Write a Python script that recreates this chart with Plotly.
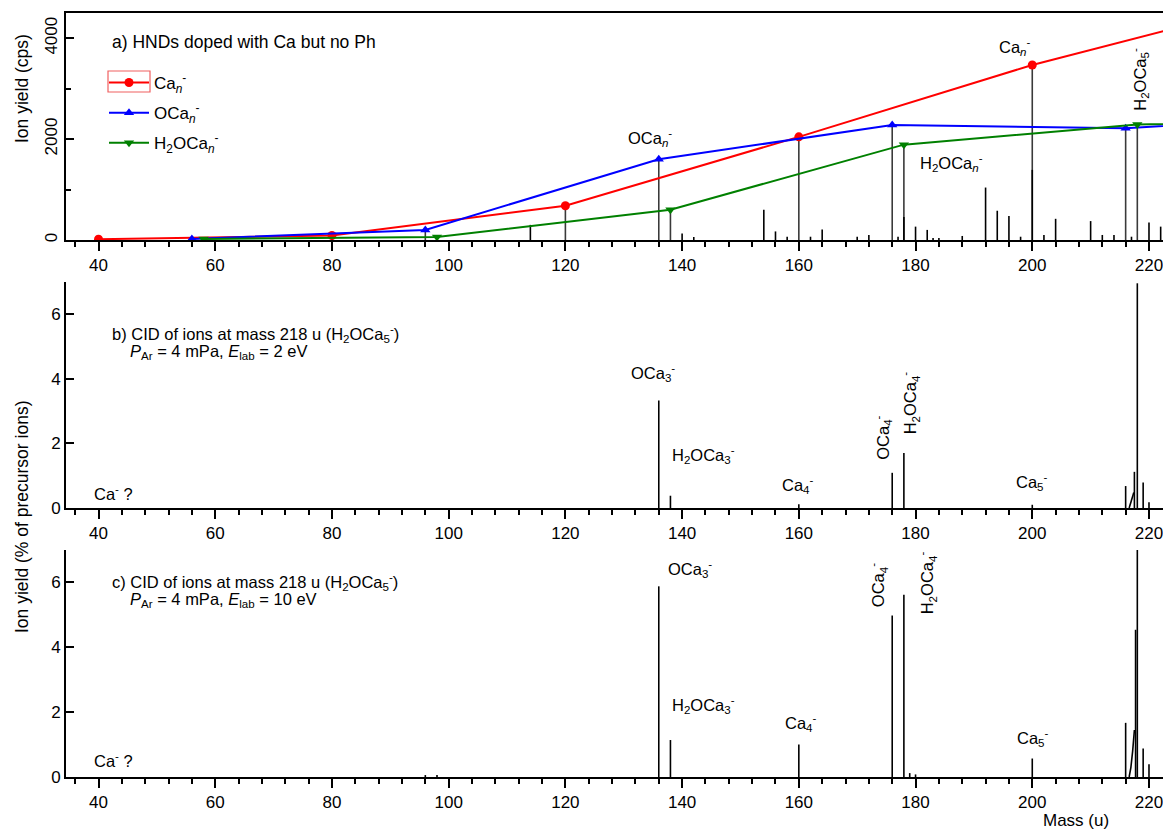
import plotly.graph_objects as go

# ---------------- data ----------------
# panel a: integrated series (mass in u, ion yield in cps)
ca_mass = [40, 80, 120, 160, 200, 240]
ca_val = [15, 90, 680, 2045, 3470, 4660]
oca_mass = [56, 96, 136, 176, 216, 256]
oca_val = [20, 200, 1600, 2280, 2215, 2500]
h2oca_mass = [58, 98, 138, 178, 218, 258]
h2oca_val = [20, 60, 600, 1890, 2290, 2380]

# panel a: other mass peaks (cps)
a_mass = [114, 140, 142, 154, 156, 158, 162, 164, 170, 172, 177, 178, 180, 182, 183,
          184, 188, 192, 194, 196, 198, 200, 202, 204, 210, 212, 214, 217, 220, 222]
a_val = [300, 130, 60, 600, 170, 65, 65, 210, 65, 100, 65, 455, 265, 200, 40,
         40, 80, 1040, 580, 475, 65, 1390, 100, 420, 375, 100, 100, 65, 345, 265]

# panel b: CID 2 eV (% of precursor ions)
b_mass = [136, 138, 160, 176, 178, 200, 216, 217.5, 218, 219, 220]
b_val = [3.33, 0.38, 0.12, 1.09, 1.70, 0.10, 0.68, 1.12, 6.96, 0.79, 0.18]
b_hump_mass = [216.6, 216.9, 217.2, 217.4]
b_hump_val = [0.0, 0.18, 0.38, 0.48]

# panel c: CID 10 eV (% of precursor ions)
c_mass = [96, 98, 136, 138, 160, 176, 178, 179, 180, 200, 216, 217.7, 218, 219, 220]
c_val = [0.06, 0.06, 5.88, 1.14, 1.0, 4.98, 5.62, 0.12, 0.08, 0.57, 1.67, 4.54, 7.0, 0.88, 0.39]
c_hump_mass = [216.6, 216.9, 217.2, 217.5]
c_hump_val = [0.0, 0.3, 0.8, 1.45]

x_tick_step = 20
x_minor_step = 4

FONT = "Arial, Liberation Sans, sans-serif"
W, H = 1163, 832
# plot area in page pixels: left 66, right 1163, top 13, bottom 777
ML, MR, MT, MB = 66, 0, 13, H - 777
PW, PH = W - ML - MR, H - MT - MB


def px2paper(px, py):
    # page pixel -> paper coordinates
    return (px - ML) / PW, (H - MB - py) / PH


def sticks(xs, ys):
    X, Y = [], []
    for x, y in zip(xs, ys):
        X += [x, x, None]
        Y += [0, y, None]
    return X, Y


fig = go.Figure()

# ---- panel a ----
for ms, vs in [(ca_mass, ca_val), (oca_mass, oca_val), (h2oca_mass, h2oca_val)]:
    X, Y = sticks(ms, vs)
    fig.add_trace(go.Scatter(x=X, y=Y, mode="lines", line=dict(color="#3a3a3a", width=1.6),
                             showlegend=False, hoverinfo="skip", xaxis="x", yaxis="y"))
X, Y = sticks(a_mass, a_val)
fig.add_trace(go.Scatter(x=X, y=Y, mode="lines", line=dict(color="black", width=1.6),
                         showlegend=False, hoverinfo="skip", xaxis="x", yaxis="y"))

series = [
    (ca_mass, ca_val, "#ff0000", "circle", "Ca<sub><i>n</i></sub><sup>-</sup>"),
    (oca_mass, oca_val, "#0000ff", "triangle-up", "OCa<sub><i>n</i></sub><sup>-</sup>"),
    (h2oca_mass, h2oca_val, "#008000", "triangle-down", "H<sub>2</sub>OCa<sub><i>n</i></sub><sup>-</sup>"),
]
for i, (ms, vs, col, sym, name) in enumerate(series):
    fig.add_trace(go.Scatter(x=ms, y=vs, mode="lines+markers", name=name,
                             line=dict(color=col, width=2),
                             marker=dict(color=col, symbol=sym, size=9),
                             legendgroup=f"g{i}", xaxis="x", yaxis="y"))

# ---- panel b ----
X, Y = sticks(b_mass, b_val)
fig.add_trace(go.Scatter(x=X, y=Y, mode="lines", line=dict(color="black", width=1.6),
                         showlegend=False, hoverinfo="skip", xaxis="x2", yaxis="y2"))
fig.add_trace(go.Scatter(x=b_hump_mass, y=b_hump_val, mode="lines", line=dict(color="black", width=1.6),
                         showlegend=False, hoverinfo="skip", xaxis="x2", yaxis="y2"))

# ---- panel c ----
X, Y = sticks(c_mass, c_val)
fig.add_trace(go.Scatter(x=X, y=Y, mode="lines", line=dict(color="black", width=1.6),
                         showlegend=False, hoverinfo="skip", xaxis="x3", yaxis="y3"))
fig.add_trace(go.Scatter(x=c_hump_mass, y=c_hump_val, mode="lines", line=dict(color="black", width=1.6),
                         showlegend=False, hoverinfo="skip", xaxis="x3", yaxis="y3"))

# ---------------- axes ----------------
xcommon = dict(range=[34.43, 222.4], tick0=0, dtick=x_tick_step, ticks="outside", ticklen=9,
               tickwidth=2, tickcolor="black", showline=True, linewidth=2, linecolor="black",
               showgrid=False, zeroline=False, ticklabeloverflow="allow",
               tickfont=dict(size=17, color="black", family=FONT),
               minor=dict(dtick=x_minor_step, tick0=0, ticks="outside", ticklen=5, tickwidth=2,
                          tickcolor="black", showgrid=False))
ycommon = dict(ticks="inside", ticklen=8, tickwidth=2, tickcolor="black", showline=True,
               linewidth=2, linecolor="black", showgrid=False, zeroline=False,
               tickfont=dict(size=17, color="black", family=FONT))


def dom(top_px, bot_px):
    return [(777 - bot_px) / PH, (777 - top_px) / PH]


fig.update_layout(
    xaxis=dict(xcommon, anchor="y", mirror=True),
    yaxis=dict(ycommon, domain=dom(13, 240), range=[0, 4500], tick0=0, dtick=2000, tickangle=-90,
               minor=dict(dtick=1000, ticks="inside", ticklen=5, tickwidth=2, tickcolor="black")),
    xaxis2=dict(xcommon, anchor="y2"),
    yaxis2=dict(ycommon, domain=dom(282, 508), range=[0, 7], tick0=0, dtick=2),
    xaxis3=dict(xcommon, anchor="y3"),
    yaxis3=dict(ycommon, domain=dom(550, 777), range=[0, 7], tick0=0, dtick=2),
)

# ---------------- annotations ----------------
anns = []


def ann(text, x, y, xr, yr, xanchor="center", angle=0, size=16.5):
    anns.append(dict(text=text, x=x, y=y, xref=xr, yref=yr, xanchor=xanchor, yanchor="middle",
                     showarrow=False, textangle=angle, font=dict(size=size, color="black", family=FONT)))


# panel a
ann("a) HNDs doped with Ca but no Ph", 42.0, 3925, "x", "y", "left", size=17.5)
ann("OCa<sub><i>n</i></sub><sup>-</sup>", 134.5, 2030, "x", "y")
ann("Ca<sub><i>n</i></sub><sup>-</sup>", 197.0, 3830, "x", "y")
ann("H<sub>2</sub>OCa<sub><i>n</i></sub><sup>-</sup>", 186.1, 1520, "x", "y")
ann("H<sub>2</sub>OCa<sub>5</sub><sup>-</sup>", 218.4, 3190, "x", "y", angle=-90)

# panel b
ann("b) CID of ions at mass 218 u (H<sub>2</sub>OCa<sub>5</sub><sup>-</sup>)", 42.0, 5.38, "x2", "y2", "left")
ann("<i>P</i><sub>Ar</sub> = 4 mPa, <i>E</i><sub>lab</sub> = 2 eV", 45.1, 4.83, "x2", "y2", "left")
ann("Ca<sup>-</sup> ?", 38.9, 0.46, "x2", "y2", "left")
ann("OCa<sub>3</sub><sup>-</sup>", 135.0, 4.19, "x2", "y2")
ann("H<sub>2</sub>OCa<sub>3</sub><sup>-</sup>", 143.7, 1.63, "x2", "y2")
ann("Ca<sub>4</sub><sup>-</sup>", 159.8, 0.71, "x2", "y2")
ann("OCa<sub>4</sub><sup>-</sup>", 174.4, 2.17, "x2", "y2", angle=-90)
ann("H<sub>2</sub>OCa<sub>4</sub><sup>-</sup>", 179.1, 3.25, "x2", "y2", angle=-90)
ann("Ca<sub>5</sub><sup>-</sup>", 199.9, 0.81, "x2", "y2")

# panel c
ann("c) CID of ions at mass 218 u (H<sub>2</sub>OCa<sub>5</sub><sup>-</sup>)", 42.0, 6.0, "x3", "y3", "left")
ann("<i>P</i><sub>Ar</sub> = 4 mPa, <i>E</i><sub>lab</sub> = 10 eV", 45.1, 5.45, "x3", "y3", "left")
ann("Ca<sup>-</sup> ?", 38.9, 0.52, "x3", "y3", "left")
ann("OCa<sub>3</sub><sup>-</sup>", 141.4, 6.42, "x3", "y3")
ann("H<sub>2</sub>OCa<sub>3</sub><sup>-</sup>", 143.7, 2.22, "x3", "y3")
ann("Ca<sub>4</sub><sup>-</sup>", 160.4, 1.65, "x3", "y3")
ann("OCa<sub>4</sub><sup>-</sup>", 173.7, 5.91, "x3", "y3", angle=-90)
ann("H<sub>2</sub>OCa<sub>4</sub><sup>-</sup>", 182.0, 5.98, "x3", "y3", angle=-90)
ann("Ca<sub>5</sub><sup>-</sup>", 200.1, 1.19, "x3", "y3")

# axis titles
px_, py_ = px2paper(22, 89)
ann("Ion yield (cps)", px_, py_, "paper", "paper", angle=-90, size=17.5)
px_, py_ = px2paper(22, 517)
ann("Ion yield (% of precursor ions)", px_, py_, "paper", "paper", angle=-90, size=17.5)
px_, py_ = px2paper(1076, 821)
ann("Mass (u)", px_, py_, "paper", "paper", size=17)

# legend highlight box
x0, y0 = px2paper(108, 92)
x1, y1 = px2paper(150, 71)
lx, ly = px2paper(104, 65)

fig.update_layout(
    width=W, height=H,
    margin=dict(l=ML, r=MR, t=MT, b=MB),
    paper_bgcolor="white", plot_bgcolor="white",
    font=dict(family=FONT, color="black"),
    annotations=anns,
    shapes=[dict(type="rect", xref="paper", yref="paper", x0=x0, x1=x1, y0=y0, y1=y1,
                 line=dict(color="#f06060", width=1.2), fillcolor="rgba(0,0,0,0)")],
    legend=dict(x=lx, y=ly, xanchor="left", yanchor="top", bgcolor="rgba(0,0,0,0)",
                font=dict(size=17, color="black", family=FONT), tracegroupgap=5, itemwidth=40,
                traceorder="grouped"),
)

fig.write_html("out.html", config={"displayModeBar": False},
               post_script="document.body.style.margin='0';document.body.style.overflow='hidden';")
